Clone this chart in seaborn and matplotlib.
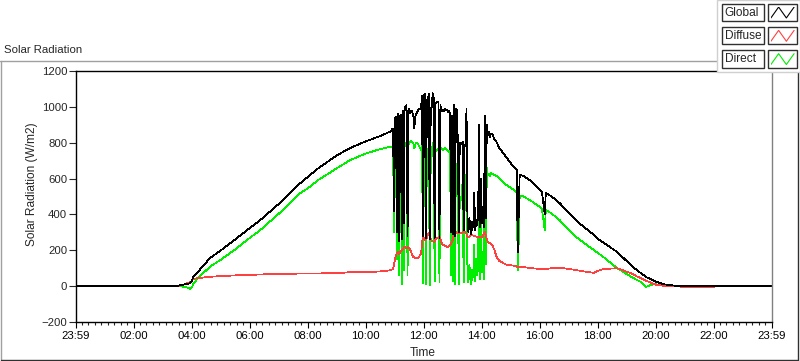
import numpy as np
import pandas as pd
import matplotlib
matplotlib.use("Agg")
import matplotlib.pyplot as plt
from matplotlib.lines import Line2D
from matplotlib.patches import Rectangle
from matplotlib.ticker import FixedLocator
import seaborn as sns

# --- datos (minutos desde medianoche, W/m2) ---
morning_min = [-1, 200, 212, 220, 226, 232, 236, 240, 242, 246, 250, 277, 300, 330,
               360, 381, 420, 464, 480, 500, 540, 567, 600, 630, 650]
morning_global = [0, 0, 3, 8, 10, 12, 18, 30, 50, 62, 72, 156, 200, 262,
                  325, 368, 460, 574, 610, 655, 730, 770, 808, 838, 862]
morning_diffuse = [0, 0, 2, 6, 12, 18, 22, 30, 38, 42, 44, 52, 56, 60,
                   63, 65, 68, 70, 71, 71, 72, 78, 78, 82, 88]
morning_direct = [0, 0, 0, -2, -5, -10, -14, -8, 10, 22, 38, 108, 148, 206,
                  270, 312, 405, 519, 546, 590, 658, 703, 740, 765, 777]

# mediodia con nubes: muestreo cada 2 min
midday_min = list(range(656, 860, 2))
midday_global = [880, 420, 940, 945, 300, 960, 250, 950, 955, 260, 980, 350, 1000, 990, 1010,
                 280, 990, 975, 965, 980, 970, 950, 880, 945, 960, 970, 980, 990, 985, 1000, 1060,
                 280, 1060, 1075, 270, 1040, 1045, 1070, 260, 990, 995, 1076, 1050, 270, 1020, 1025,
                 1030, 1025, 265, 1010, 980, 975,
                 985, 975, 990, 980, 985, 970, 975, 965, 300, 950, 290,
                 1010, 280, 990, 985, 810, 300, 800, 790, 795, 805, 310, 780, 790, 990,
                 350, 300, 380, 320, 290, 360, 330, 520, 310, 370, 340, 390, 900, 330, 600, 350,
                 400, 330, 950, 380, 900, 840, 860, 830, 850]
midday_diffuse = [95, 120, 150, 170, 185, 190, 180, 185, 195, 200, 205, 215, 220, 215, 210,
                  219, 215, 212, 200, 185, 170, 162, 160, 158, 156, 156, 158, 165, 175, 184, 240,
                  275, 265, 256, 260, 270, 285, 295, 280, 265, 255, 250, 247, 250, 260, 268,
                  268, 270, 275, 265, 245, 235,
                  230, 229, 225, 222, 220, 219, 222, 230, 240, 247, 260,
                  300, 303, 300, 298, 296, 295, 295, 296, 298, 300, 303, 303, 300, 290,
                  278, 275, 276, 280, 284, 284, 282, 280, 278, 276, 275, 275, 276, 276, 275, 275,
                  280, 295, 303, 280, 260, 247, 242, 240, 238]
midday_direct = [780, 300, 770, 775, 150, 790, 60, 760, 765, 10, 780, 90, 800, 795, 790,
                 60, 790, 800, 805, 810, 800, 795, 770, 790, 800, 795, 790, 780, 770, 760, 790,
                 15, 780, 790, 10, 760, 765, 770, 5, 720, 725, 800, 780, 25, 750, 755,
                 760, 770, 20, 760, 770, 765,
                 760, 765, 770, 765, 760, 750, 755, 740, 60, 720, 30,
                 700, 10, 680, 675, 560, 10, 500, 480, 490, 600, 20, 420, 450, 650,
                 60, 20, 120, 40, 10, 90, 50, 230, 30, 150, 60, 110, 690, 40, 380, 80,
                 150, 40, 690, 120, 660, 620, 620, 615, 630]

evening_min = [862, 866, 870, 876, 890, 904, 912, 914, 916, 918, 926, 942, 958, 964, 970, 972,
               984, 1000, 1030, 1044, 1072, 1080, 1090, 1120, 1150, 1160, 1170, 1180, 1190,
               1200, 1215, 1240, 1256, 1320, 1322, 1439]
evening_global = [845, 815, 805, 770, 720, 670, 650, 190, 400, 620, 615, 585, 540, 525, 400, 520,
                  500, 465, 380, 345, 285, 262, 245, 190, 112, 90, 70, 50, 38,
                  25, 11, 2, 0, 0, 0, 0]
evening_diffuse = [225, 200, 165, 140, 120, 115, 110, 105, 106, 106, 106, 100, 96, 95, 95, 95,
                   100, 103, 92, 85, 74, 85, 95, 100, 70, 55, 43, 30, 18,
                   8, 2, 0, -4, -4, 0, 0]
evening_direct = [625, 620, 615, 600, 565, 540, 520, 89, 250, 505, 500, 475, 445, 430, 312, 425,
                  405, 370, 285, 255, 200, 184, 165, 100, 50, 35, 22, -4, 8,
                  10, 2, 0, 0, 0, 0, 0]

tick_labels = ["23:59", "02:00", "04:00", "06:00", "08:00", "10:00", "12:00",
               "14:00", "16:00", "18:00", "20:00", "22:00", "23:59"]
series_names = ["Global", "Diffuse", "Direct"]
series_colors = {"Global": "#000000", "Diffuse": "#ff4040", "Direct": "#00ee00"}

minutes = morning_min + midday_min + evening_min
df = pd.DataFrame({
    "minutes": minutes,
    "Global": morning_global + midday_global + evening_global,
    "Diffuse": morning_diffuse + midday_diffuse + evening_diffuse,
    "Direct": morning_direct + midday_direct + evening_direct,
})
long_df = df.melt(id_vars="minutes", var_name="serie", value_name="rad")

sns.set_style("white")
plt.rcParams["font.family"] = ["Liberation Sans", "DejaVu Sans"]
plt.rcParams["font.size"] = 8.2

W, H = 800, 361
fx = lambda px: px / W
fy = lambda py: 1 - py / H

fig = plt.figure(figsize=(W / 100, H / 100), dpi=100)
ax = fig.add_axes([fx(75.5), fy(322), 696 / W, 251 / H])

# orden: Direct abajo, luego Diffuse, Global arriba (trazo de 1 px sin suavizado)
for name in ["Direct", "Diffuse", "Global"]:
    sub = long_df[long_df["serie"] == name]
    sns.lineplot(data=sub, x="minutes", y="rad", color=series_colors[name],
                 lw=0.55, estimator=None, sort=False, ax=ax, legend=False,
                 antialiased=False)

ax.set_xlim(-1, 1439)
ax.set_ylim(-200, 1200)
ax.set_xlabel("")
ax.set_ylabel("")
ax.xaxis.set_major_locator(FixedLocator([-1 + 120 * i for i in range(13)]))
ax.set_xticklabels(tick_labels)
ax.xaxis.set_minor_locator(FixedLocator(np.arange(-1, 1440, 40 / 3)))
ax.set_yticks(range(-200, 1201, 200))
ax.tick_params(axis="x", which="major", direction="out", length=4.5, width=0.8,
               pad=2, colors="black", bottom=True)
ax.tick_params(axis="x", which="minor", direction="out", length=2.5, width=0.8, bottom=True)
ax.tick_params(axis="y", which="major", direction="out", length=5, width=0.8,
               pad=1, left=True)
for s in ["left", "bottom", "top"]:
    ax.spines[s].set_color("black")
    ax.spines[s].set_linewidth(1)
ax.spines["right"].set_color("#808080")
ax.spines["right"].set_linewidth(1)

# marco del control
fig.add_artist(Line2D([fx(0), fx(717)], [fy(61), fy(61)], color="#a0a0a0", lw=1))
fig.add_artist(Line2D([fx(1), fx(1)], [fy(61), fy(360)], color="#a0a0a0", lw=1))
fig.add_artist(Line2D([fx(1), fx(798)], [fy(359.5), fy(359.5)], color="#303030", lw=1))
fig.add_artist(Line2D([fx(797.5), fx(797.5)], [fy(72), fy(360)], color="#303030", lw=1))

fig.text(fx(4), fy(50), "Solar Radiation", ha="left", va="center")
fig.text(fx(32), fy(184), "Solar Radiation (W/m2)", rotation=90, ha="center", va="center",
         fontsize=8.6)
fig.text(fx(423), fy(353), "Time", ha="center", va="center", fontsize=8.6)

# leyenda estilo LabVIEW
fig.add_artist(Rectangle((fx(717), fy(72)), 83 / W, 72 / H, transform=fig.transFigure,
                         facecolor="white", edgecolor="#d0d0d0", lw=1, zorder=5))
for i, name in enumerate(series_names):
    top = 3.5 + 23.3 * i
    fig.add_artist(Rectangle((fx(722), fy(top + 17.5)), 41.5 / W, 17.5 / H,
                             transform=fig.transFigure, facecolor="white",
                             edgecolor="#303030", lw=1, zorder=6))
    fig.add_artist(Rectangle((fx(768), fy(top + 17.5)), 29 / W, 17.5 / H,
                             transform=fig.transFigure, facecolor="white",
                             edgecolor="#303030", lw=1, zorder=6))
    fig.text(fx(724.5), fy(top + 9), name, ha="left", va="center", zorder=7, fontsize=8.6)
    sw = fig.add_axes([fx(770.5), fy(top + 15), 24 / W, 12 / H], zorder=8)
    sw.plot([0, 1, 2, 3], [0, 1, 0, 1], color=series_colors[name], lw=0.8)
    sw.set_xlim(-0.05, 3.05)
    sw.set_ylim(-0.05, 1.05)
    sw.axis("off")

fig.savefig("out.png", dpi=100)
